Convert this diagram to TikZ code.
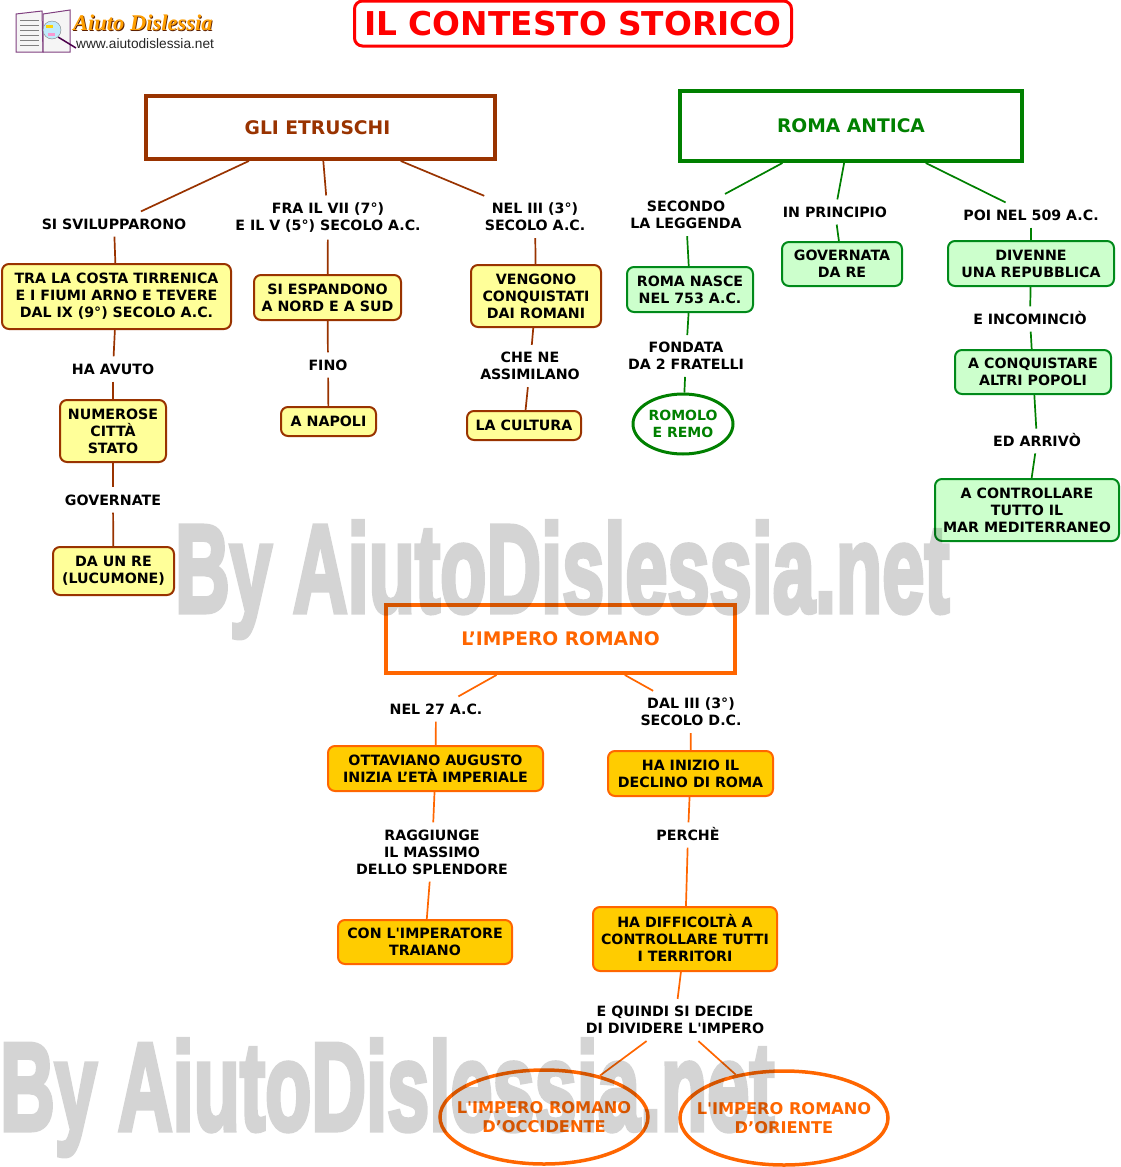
\documentclass[tikz,border=0pt]{standalone}
\usepackage{fontspec}
\setmainfont{DejaVu Sans}[BoldFont={DejaVu Sans Bold},Ligatures=TeXOff]
\newfontfamily\wmfont{Liberation Sans}[BoldFeatures={FakeBold=4}]
\newfontfamily\logofont{Liberation Serif}
\newfontfamily\urlfont{Liberation Sans}
\definecolor{brn}{HTML}{993300}
\definecolor{grn}{HTML}{008000}
\definecolor{grl}{HTML}{008A1A}
\definecolor{org}{HTML}{FF6600}
\definecolor{yel}{HTML}{FFFF99}
\definecolor{mnt}{HTML}{CCFFCC}
\definecolor{gld}{HTML}{FFCC00}
\usetikzlibrary{shapes.geometric}
\newcommand{\cl}[1]{\makebox[0pt]{#1}}
\tikzset{
 wh/.style 2 args={minimum width=#1pt,minimum height=#2pt},
 txt/.style={font=\bfseries\fontsize{14.2}{17}\selectfont,align=center,text=black},
 lab/.style={txt,inner xsep=5pt,inner ysep=7pt},
 rbox/.style={txt,rounded corners=7pt,draw,line width=2pt,inner sep=0pt},
 ybox/.style={rbox,draw=brn,fill=yel},
 gbox/.style={rbox,draw=grl,fill=mnt},
 obox/.style={rbox,draw=org,fill=gld},
 head/.style={draw,line width=4pt,inner sep=0pt,fill=white,font=\bfseries\fontsize{18.7}{20}\selectfont},
 oval/.style={ellipse,draw,line width=3.5pt,inner sep=0pt,font=\bfseries\fontsize{16.2}{19.5}\selectfont,align=center},
 wm/.style={font=\wmfont\bfseries\fontsize{125}{125}\selectfont,text=black,inner sep=0pt,anchor=base west},
 bl/.style={draw=brn,line width=1.7pt},
 gl/.style={draw=grn,line width=1.7pt},
 ol/.style={draw=org,line width=1.7pt},
}
\begin{document}
\begin{tikzpicture}[x=1pt,y=-1pt]
\useasboundingbox (0,0) rectangle (1121,1167);
% logo
\fill[white] (0,0) rectangle (1121,1167);
\draw[draw=violet!50!gray,fill=gray!8,line width=1pt] (16,14) -- (42,11) -- (43,52) -- (16,52) -- cycle;
\draw[draw=violet!50!gray,fill=gray!8,line width=1pt] (43,14) -- (70,10) -- (70,52) -- (43,52) -- cycle;
\foreach \yy in {20,25,30,35,40,45}{\draw[gray,line width=.6pt] (20,\yy) -- (39,\yy);}
\draw[violet!60!black,line width=1.5pt] (58,37) -- (76,48);
\fill[cyan!25,draw=gray] (52,30) circle (9);
\fill[yellow!70!orange] (46,25) rectangle (53,28);
\fill[magenta!40] (48,33) rectangle (55,36);
\node[inner sep=0pt,anchor=west,text=brn!60!black,font=\logofont\bfseries\itshape\fontsize{22.5}{24}\selectfont] (logoshadow) at (73.8,23.8) {Aiuto Dislessia};
\node[inner sep=0pt,anchor=west,text=orange!75!yellow,font=\logofont\bfseries\itshape\fontsize{22.5}{24}\selectfont] (logotext) at (73,23) {Aiuto Dislessia};
\node[inner sep=0pt,anchor=west,text=black!85,font=\urlfont\fontsize{13.7}{13}\selectfont] (logourl) at (76,44) {www.aiutodislessia.net};
% title
\node[rounded corners=8pt,draw=red,line width=3pt,text=red,inner sep=0pt,font=\bfseries\fontsize{32.8}{36}\selectfont,wh={437}{45}] (title) at (573,23.5) {IL CONTESTO STORICO};
% heads
\node[head,draw=brn,text=brn,wh={349}{63}] (gli) at (320.5,127.5) {GLI ETRUSCHI\rule{6pt}{0pt}};
\node[head,draw=grn,text=grn,wh={342}{70}] (roma) at (851,126) {ROMA ANTICA};
\node[head,draw=org,text=org,wh={349}{68}] (imp) at (560.5,639) {L’IMPERO ROMANO};
% Etruschi
\node[lab] (l1) at (114,224) {SI SVILUPPARONO};
\node[ybox,wh={229}{65}] (tra) at (116.5,296.5) {TRA LA COSTA TIRRENICA\\E I FIUMI ARNO E TEVERE\\DAL IX (9°) SECOLO A.C.};
\node[lab] (l2) at (113,369) {HA AVUTO};
\node[ybox,wh={106}{62}] (num) at (113,431) {NUMEROSE\\CITTÀ\\STATO};
\node[lab] (l3) at (113,500) {GOVERNATE};
\node[ybox,wh={121}{48}] (re) at (113.5,571) {DA UN RE\\(LUCUMONE)};
\node[lab] (l4) at (328,217.5) {FRA IL VII (7°)\\E IL V (5°) SECOLO A.C.};
\node[ybox,wh={147}{45}] (esp) at (327.5,297.5) {SI ESPANDONO\\A NORD E A SUD};
\node[lab] (l5) at (328,365) {FINO};
\node[ybox,wh={95}{29}] (nap) at (328.5,421.5) {A NAPOLI};
\node[lab] (l6) at (535,217) {NEL III (3°)\\SECOLO A.C.};
\node[ybox,wh={130}{62}] (ven) at (536,296) {VENGONO\\CONQUISTATI\\DAI ROMANI};
\node[lab] (l7) at (530,366) {CHE NE\\ASSIMILANO};
\node[ybox,wh={114}{29}] (cul) at (524,425.5) {LA CULTURA};
\foreach \a/\b in {gli/l1,l1/tra,tra/l2,l2/num,num/l3,l3/re,gli/l4,l4/esp,esp/l5,l5/nap,gli/l6,l6/ven,ven/l7,l7/cul}{\draw[bl] (\a) -- (\b);}
% Roma
\node[lab] (r1) at (686,215) {SECONDO\\LA LEGGENDA};
\node[gbox,wh={126}{45}] (nasce) at (690,289.5) {ROMA NASCE\\NEL 753 A.C.};
\node[lab] (r2) at (686,356) {FONDATA\\DA 2 FRATELLI};
\node[oval,draw=grn,text=grn,line width=3pt,font=\bfseries\fontsize{14}{17}\selectfont,minimum width=100pt,minimum height=60pt] (rom) at (683,424) {\cl{ROMOLO}\\\cl{E REMO}};
\node[lab] (r3) at (835,212) {IN PRINCIPIO};
\node[gbox,wh={120}{44}] (gov) at (842,264) {GOVERNATA\\DA RE};
\node[lab] (r4) at (1031,215) {POI NEL 509 A.C.};
\node[gbox,wh={166}{45}] (div) at (1031,263.5) {DIVENNE\\UNA REPUBBLICA};
\node[lab] (r5) at (1030,319) {E INCOMINCI\smash{Ò}};
\node[gbox,wh={156}{44}] (con) at (1033,372) {A CONQUISTARE\\ALTRI POPOLI};
\node[lab] (r6) at (1037,441) {ED ARRIV\smash{Ò}};
\node[gbox,wh={184}{62}] (mar) at (1027,510) {A CONTROLLARE\\TUTTO IL\\MAR MEDITERRANEO};
\foreach \a/\b in {roma/r1,r1/nasce,nasce/r2,r2/rom,roma/r3,r3/gov,roma/r4,r4/div,div/r5,r5/con,con/r6,r6/mar}{\draw[gl] (\a) -- (\b);}
% Impero
\node[lab] (i1) at (436,709) {NEL 27 A.C.};
\node[obox,wh={215}{45}] (ott) at (435.5,768.5) {OTTAVIANO AUGUSTO\\INIZIA L’ETÀ IMPERIALE};
\node[lab] (i2) at (432,852) {RAGGIUNGE\\IL MASSIMO\\DELLO SPLENDORE};
\node[obox,wh={174}{44}] (tra2) at (425,942) {CON L'IMPERATORE\\TRAIANO};
\node[lab] (i3) at (691,712) {DAL III (3°)\\SECOLO D.C.};
\node[obox,wh={165}{45}] (ini) at (690.5,773.5) {HA INIZIO IL\\DECLINO DI ROMA};
\node[lab] (i4) at (688,835) {PERCH\smash{È}};
\node[obox,wh={184}{64}] (dif) at (685,939) {HA DIFFICOLT\smash{À} A\\CONTROLLARE TUTTI\\I TERRITORI};
\node[lab] (i5) at (675,1020) {E QUINDI SI DECIDE\\DI DIVIDERE L'IMPERO};
\node[oval,draw=org,text=org,minimum width=208pt,minimum height=94pt] (occ) at (544,1117) {\cl{L'IMPERO ROMANO}\\\cl{D’OCCIDENTE}};
\node[oval,draw=org,text=org,minimum width=208pt,minimum height=94pt] (ori) at (784,1118) {\cl{L'IMPERO ROMANO}\\\cl{D’ORIENTE}};
\foreach \a/\b in {imp/i1,i1/ott,ott/i2,i2/tra2,imp/i3,i3/ini,ini/i4,i4/dif,dif/i5,i5/occ,i5/ori}{\draw[ol] (\a) -- (\b);}
% watermarks
\begin{scope}[transparency group,opacity=.17]
\node[wm,xscale=.606] (wma) at (175,612) {By AiutoDislessia.net};
\node[wm,xscale=.606] (wmb) at (0,1130) {By AiutoDislessia.net};
\end{scope}
\end{tikzpicture}
\end{document}
